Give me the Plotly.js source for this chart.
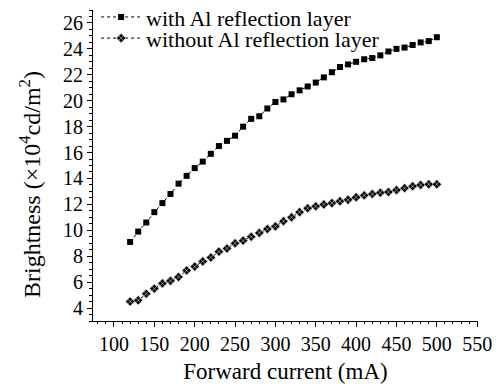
<!DOCTYPE html>
<html>
<head>
<meta charset="utf-8">
<script src="https://cdn.plot.ly/plotly-3.0.1.min.js"></script>
<style>html,body{margin:0;padding:0;background:#fff;}#chart{width:500px;height:384px;}</style>
</head>
<body>
<div id="chart"></div>
<script>
const currentMA = [120,130,140,150,160,170,180,190,200,210,220,230,240,250,260,270,280,290,300,310,320,330,340,350,360,370,380,390,400,410,420,430,440,450,460,470,480,490,500];
const withAl = [9.1,9.9,10.6,11.4,12.1,12.8,13.6,14.2,14.8,15.3,15.9,16.5,16.9,17.3,18.0,18.6,18.8,19.4,19.9,20.1,20.5,20.8,21.1,21.4,21.8,22.2,22.6,22.8,23.0,23.2,23.3,23.5,23.8,24.0,24.1,24.3,24.5,24.6,24.9];
const withoutAl = [4.5,4.6,5.1,5.5,5.9,6.1,6.4,6.9,7.2,7.6,7.9,8.35,8.6,9.0,9.2,9.5,9.8,10.1,10.3,10.7,11.0,11.4,11.7,11.85,12.0,12.1,12.25,12.35,12.55,12.7,12.8,12.9,12.95,13.1,13.25,13.4,13.5,13.55,13.55];
const seriesNames = ['with Al reflection layer', 'without Al reflection layer'];
const xTitle = 'Forward current (mA)';
const yTitle = 'Brightness (×10<sup>4</sup>cd/m<sup>2</sup>)';

const font = "'Liberation Serif', 'Times New Roman', serif";
const traces = [
  {x: currentMA, y: withAl, name: seriesNames[0], type: 'scatter', mode: 'lines+markers', legend: 'legend',
   line: {color: '#000', width: 1, dash: 'dot'},
   marker: {symbol: 'square', size: 6, color: '#000'}},
  {x: currentMA, y: withoutAl, name: seriesNames[1], type: 'scatter', mode: 'lines+markers', legend: 'legend2',
   line: {color: '#000', width: 1, dash: 'dot'},
   marker: {symbol: 'diamond-x', size: 7, color: '#000', line: {color: '#bbb', width: 0.7}}}
];
const legStyle = {xanchor: 'left', yanchor: 'middle', bgcolor: 'rgba(0,0,0,0)', itemwidth: 40,
                  font: {family: font, size: 22, color: '#000'}};
const layout = {
  width: 500, height: 384,
  margin: {l: 93, r: 22, t: 10, b: 63, autoexpand: false},
  paper_bgcolor: '#fff', plot_bgcolor: '#fff',
  font: {family: font, color: '#000', size: 20},
  showlegend: true,
  legend: Object.assign({x: 0.008, y: 0.977}, legStyle),
  legend2: Object.assign({x: 0.008, y: 0.909}, legStyle),
  xaxis: {range: [74, 551], dtick: 50, tick0: 0, showgrid: false, zeroline: false,
          showline: true, linecolor: '#000', linewidth: 1, ticks: 'outside', ticklen: 5, tickcolor: '#000',
          minor: {dtick: 10, ticks: 'outside', ticklen: 2, tickcolor: '#000'},
          tickfont: {family: font, size: 20},
          title: {text: xTitle, font: {family: font, size: 23}, standoff: 8}},
  yaxis: {range: [3, 27], dtick: 2, tick0: 0, showgrid: false, zeroline: false,
          showline: true, linecolor: '#000', linewidth: 1, ticks: 'outside', ticklen: 5, tickcolor: '#000',
          minor: {dtick: 0.5, ticks: 'outside', ticklen: 3, tickcolor: '#000'},
          tickfont: {family: font, size: 20}},
  annotations: [{text: yTitle, xref: 'paper', yref: 'paper', x: -0.164, y: 0.44,
                 xanchor: 'center', yanchor: 'middle', textangle: -90, showarrow: false,
                 font: {family: font, size: 24, color: '#000'}}]
};
Plotly.newPlot('chart', traces, layout, {displayModeBar: false, staticPlot: true});
</script>
</body>
</html>
